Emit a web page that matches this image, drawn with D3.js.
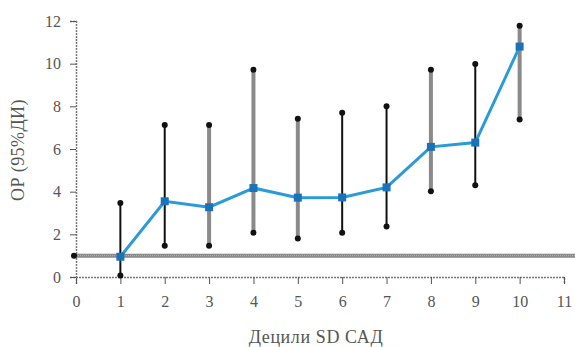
<!DOCTYPE html>
<html>
<head>
<meta charset="utf-8">
<script src="https://cdn.jsdelivr.net/npm/d3@7"></script>
<style>
  body { margin: 0; background: #fff; }
  svg { display: block; font-family: "Liberation Serif", "DejaVu Serif", serif; }
</style>
</head>
<body>
<div id="chart"></div>
<script>
// deciles of SD of systolic BP
const deciles = [1, 2, 3, 4, 5, 6, 7, 8, 9, 10];
const rr = [0.95, 3.55, 3.27, 4.17, 3.72, 3.73, 4.2, 6.1, 6.3, 10.8];
const ciLow = [0.07, 1.47, 1.47, 2.08, 1.8, 2.08, 2.37, 4.02, 4.3, 7.38];
const ciHigh = [3.47, 7.13, 7.13, 9.72, 7.42, 7.7, 8.0, 9.72, 9.98, 11.78];
const xTicks = d3.range(0, 12);
const yTicks = [0, 2, 4, 6, 8, 10, 12];
const refValue = 1;

const width = 575, height = 347;
const gray = new Set([3, 4, 5, 8, 10]);

const svg = d3.select('#chart').append('svg')
  .attr('width', width)
  .attr('height', height);

const x = d3.scaleLinear().domain([0, 11]).range([76, 564]);
const y = d3.scaleLinear().domain([0, 12]).range([277, 21]);

// axes
const xAxis = svg.append('g')
  .attr('transform', `translate(0,${y(0)})`)
  .call(d3.axisBottom(x).tickValues(xTicks).tickSize(7).tickPadding(12).tickFormat(d3.format('d')));
const yAxis = svg.append('g')
  .attr('transform', `translate(${x(0)},0)`)
  .call(d3.axisLeft(y).tickValues(yTicks).tickSize(6).tickPadding(9).tickFormat(d3.format('d')));

[xAxis, yAxis].forEach(a => {
  a.select('.domain').attr('stroke', '#777').attr('stroke-width', 1.5).attr('stroke-dasharray', '2,1');
  a.selectAll('.tick line').attr('stroke', '#555');
  a.selectAll('text').attr('fill', '#555').style('font-size', '16px').style('font-family', '"Liberation Serif", serif');
});

// reference line at RR = 1
svg.append('line')
  .attr('x1', x(0) - 2).attr('x2', width)
  .attr('y1', y(refValue)).attr('y2', y(refValue))
  .attr('stroke', '#888').attr('stroke-width', 4);
svg.append('line')
  .attr('x1', x(0) - 2).attr('x2', width)
  .attr('y1', y(refValue)).attr('y2', y(refValue))
  .attr('stroke', '#bbb').attr('stroke-width', 1).attr('stroke-dasharray', '1,1');
svg.append('circle')
  .attr('cx', x(0) - 2).attr('cy', y(refValue)).attr('r', 3).attr('fill', '#111');

// error bars
const bars = svg.append('g').selectAll('g')
  .data(deciles)
  .join('g');

bars.append('line')
  .attr('x1', d => x(d)).attr('x2', d => x(d))
  .attr('y1', (d, i) => y(ciLow[i])).attr('y2', (d, i) => y(ciHigh[i]))
  .attr('stroke', d => gray.has(d) ? '#8a8a8a' : '#111')
  .attr('stroke-width', d => gray.has(d) ? 4 : 2);

bars.selectAll('circle')
  .data((d, i) => [[d, ciLow[i]], [d, ciHigh[i]]])
  .join('circle')
  .attr('cx', d => x(d[0])).attr('cy', d => y(d[1]))
  .attr('r', 3).attr('fill', '#111');

// mean line
svg.append('path')
  .datum(deciles)
  .attr('fill', 'none')
  .attr('stroke', '#2a9ad8')
  .attr('stroke-width', 3)
  .attr('d', d3.line().x(d => x(d)).y((d, i) => y(rr[i])));

svg.append('g').selectAll('rect')
  .data(deciles)
  .join('rect')
  .attr('x', d => x(d) - 4)
  .attr('y', (d, i) => y(rr[i]) - 4)
  .attr('width', 8).attr('height', 8)
  .attr('fill', '#1a72b8');

// axis titles
svg.append('text')
  .attr('x', 316).attr('y', 343)
  .attr('text-anchor', 'middle')
  .attr('fill', '#555')
  .style('font-size', '18px')
  .style('letter-spacing', '0.6px')
  .text('Децили SD САД');

svg.append('text')
  .attr('transform', 'translate(24,150) rotate(-90)')
  .attr('text-anchor', 'middle')
  .attr('fill', '#555')
  .style('font-size', '18px')
  .style('letter-spacing', '0.4px')
  .text('ОР (95%ДИ)');
</script>
</body>
</html>
